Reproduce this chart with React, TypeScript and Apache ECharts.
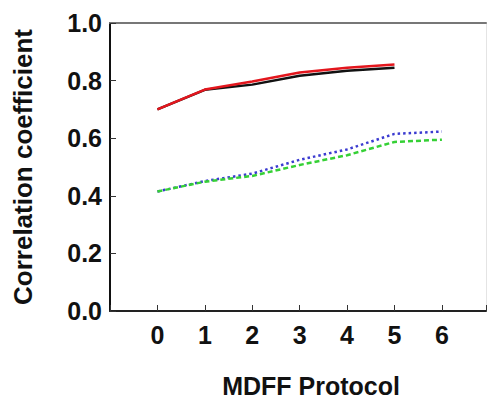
import React, { useEffect, useRef } from "react";
import * as echarts from "echarts";

const protocols = [0, 1, 2, 3, 4, 5, 6];
const blackSeries = [0.70, 0.768, 0.786, 0.817, 0.834, 0.845];
const redSeries = [0.70, 0.769, 0.797, 0.828, 0.845, 0.856];
const blueSeries = [0.415, 0.451, 0.477, 0.525, 0.561, 0.615, 0.623];
const greenSeries = [0.415, 0.449, 0.469, 0.507, 0.541, 0.587, 0.595];
const xTickLabels = ["0", "1", "2", "3", "4", "5", "6"];
const yTickLabels = ["0.0", "0.2", "0.4", "0.6", "0.8", "1.0"];

const FONT = "'Liberation Sans', Arial, Helvetica, sans-serif";

function pairs(vals: number[]) {
  return vals.map((v, i) => [protocols[i], v]);
}

export default function App() {
  const ref = useRef<HTMLDivElement>(null);
  useEffect(() => {
    if (!ref.current) return;
    const chart = echarts.init(ref.current, null, { renderer: "svg" });
    const labelStyle = {
      fontFamily: FONT,
      fontWeight: "bold" as const,
      fontSize: 25,
      color: "#111",
    };
    chart.setOption({
      animation: false,
      backgroundColor: "#fff",
      grid: { left: 110, top: 23, width: 378, bottom: 83, containLabel: false },
      xAxis: [
        {
          type: "value",
          min: -1,
          max: 6.93,
          interval: 1,
          name: "MDFF Protocol",
          nameLocation: "middle",
          nameGap: 62,
          nameTextStyle: { ...labelStyle, padding: [0, 0, 0, 26] },
          axisLine: { show: true, onZero: false, lineStyle: { color: "#222", width: 2 } },
          axisTick: {
            show: true,
            inside: true,
            length: 6,
            lineStyle: { color: "#333", width: 1 },
          },
          splitLine: { show: false },
          axisLabel: {
            ...labelStyle,
            margin: 11,
            formatter: (v: number) => {
              const i = protocols.indexOf(Math.round(v * 1000) / 1000);
              return i >= 0 ? xTickLabels[i] : "";
            },
          },
        },
        {
          type: "value",
          position: "top",
          min: -1,
          max: 6.93,
          axisLine: { show: true, onZero: false, lineStyle: { color: "#777", width: 2 } },
          axisTick: { show: false },
          axisLabel: { show: false },
          splitLine: { show: false },
        },
      ],
      yAxis: [
        {
          type: "value",
          min: 0,
          max: 1,
          interval: 0.2,
          name: "Correlation coefficient",
          nameLocation: "middle",
          nameRotate: 90,
          nameGap: 74,
          nameTextStyle: { ...labelStyle, fontSize: 26 },
          axisLine: { show: true, onZero: false, lineStyle: { color: "#111", width: 2 } },
          axisTick: {
            show: true,
            inside: true,
            length: 6,
            lineStyle: { color: "#333", width: 1 },
          },
          splitLine: { show: false },
          axisLabel: {
            ...labelStyle,
            margin: 8,
            formatter: (v: number) => yTickLabels[Math.round(v * 5)] ?? "",
          },
        },
        {
          type: "value",
          position: "right",
          min: 0,
          max: 1,
          axisLine: { show: true, onZero: false, lineStyle: { color: "#e4e4e4", width: 1 } },
          axisTick: { show: false },
          axisLabel: { show: false },
          splitLine: { show: false },
        },
      ],
      series: [
        {
          type: "line",
          data: pairs(blackSeries),
          symbol: "none",
          lineStyle: { color: "#111", width: 2.5 },
        },
        {
          type: "line",
          data: pairs(redSeries),
          symbol: "none",
          lineStyle: { color: "#e3161d", width: 2.5 },
        },
        {
          type: "line",
          data: pairs(blueSeries),
          symbol: "none",
          lineStyle: { color: "#3b3bd0", width: 2.5, type: [2.5, 3] },
        },
        {
          type: "line",
          data: pairs(greenSeries),
          symbol: "none",
          lineStyle: { color: "#35d035", width: 2.5, type: [5, 3] },
        },
      ],
    });
    return () => chart.dispose();
  }, []);
  return (
    <div
      ref={ref}
      style={{ position: "absolute", left: 0, top: 0, width: 489, height: 403 }}
    />
  );
}
